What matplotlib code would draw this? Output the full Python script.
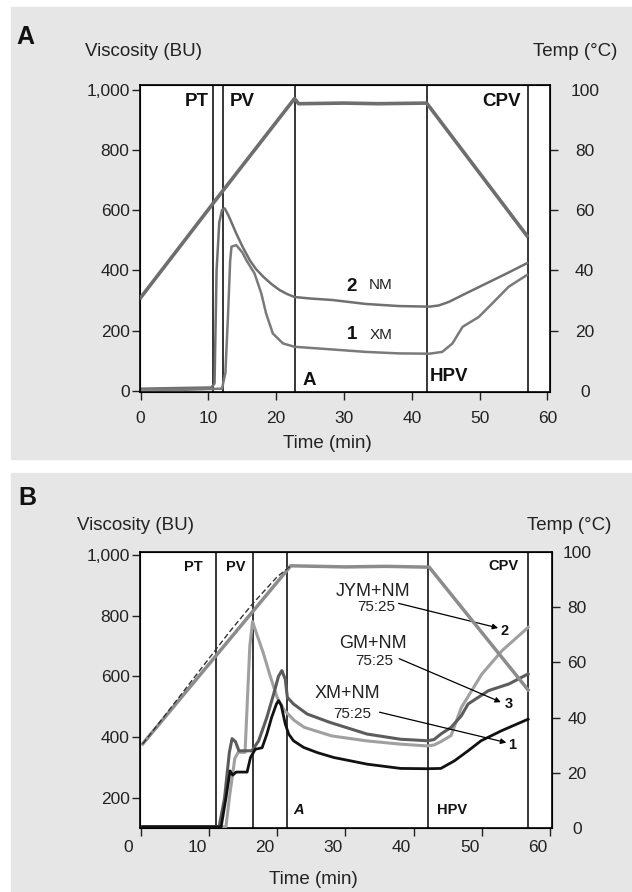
import matplotlib
matplotlib.use("Agg")
import matplotlib.pyplot as plt
import matplotlib.transforms as mtransforms
from matplotlib.patches import Rectangle
from matplotlib.ticker import StrMethodFormatter

plt.rcParams['font.family'] = ['Liberation Sans', 'DejaVu Sans']

# ---- Panel A data ----
a_temp_t = [0, 10.6, 22.7, 23.3, 30, 35, 42.2, 57]
a_temp_c = [31, 62, 97, 95.3, 95.5, 95.3, 95.5, 51.5]

a_nm_t = [0, 5, 10.4, 10.9, 11.2, 11.6, 12.0, 12.4, 13.0, 14.1, 15.0, 16.1, 17.0,
          18.1, 19.3, 20.5, 21.6, 22.7, 25, 28.3, 33.2, 38.1, 42.6, 44, 45.5, 48,
          51, 54, 57]
a_nm_bu = [8, 10, 12, 25, 400, 560, 600, 606, 580, 523, 480, 434, 405, 379, 355,
           335, 322, 312, 307, 302, 289, 282, 280, 284, 296, 324, 357, 390, 424]

a_xm_t = [0, 6, 12.0, 12.5, 12.9, 13.2, 13.4, 14.1, 15.0, 15.6, 16.8, 17.8, 18.5,
          19.5, 21, 22.7, 28.3, 33.2, 38.1, 42.6, 44.5, 46, 47.5, 49.9, 51.9,
          54.3, 57]
a_xm_bu = [5, 4, 8, 60, 258, 430, 479, 484, 460, 434, 390, 324, 258, 191, 158,
           147, 138, 130, 125, 124, 130, 158, 213, 246, 291, 346, 385]

a_phases = [10.6, 12.1, 22.7, 42.2, 57.2]

# ---- Panel B data ----
b_temp_t = [0.3, 22.0, 30, 36, 42.3, 56.8]
b_temp_c = [30.5, 95.0, 94.6, 94.8, 94.5, 50.0]
b_temp2_t = [0.3, 3, 8, 13, 16.5, 20, 22]
b_temp2_c = [30.5, 39, 55, 71, 81.5, 91, 95]

b_jym_t = [0.3, 12.5, 13.0, 13.8, 14.3, 15.3, 15.6, 16.0, 16.4, 17.0, 18.0, 19.0,
           20.0, 21.0, 22.5, 24.0, 28.0, 33.0, 38.0, 42.0, 43.0, 44.0, 45.5, 47.0,
           50.0, 53.0, 56.8]
b_jym_bu = [105, 105, 200, 330, 350, 350, 500, 700, 780, 740, 675, 600, 531, 490,
            455, 432, 404, 388, 377, 371, 374, 385, 405, 497, 607, 685, 761]

b_gm_t = [0.3, 11.5, 12.3, 13.0, 13.4, 13.9, 14.4, 16.3, 17.3, 18.5, 19.5, 20.2,
          20.7, 21.2, 21.5, 22.4, 24.4, 27.8, 33.2, 38.1, 42.1, 43.0, 44.0, 45.5,
          47.0, 48.0, 51.0, 54.0, 56.8]
b_gm_bu = [105, 105, 200, 350, 395, 385, 355, 355, 388, 465, 542, 600, 619, 590,
           531, 509, 476, 448, 410, 393, 388, 392, 410, 432, 470, 509, 553, 575, 608]

b_xm_t = [0.3, 11.8, 12.5, 13.1, 13.5, 14.0, 15.6, 16.1, 16.8, 17.8, 18.5, 19.2,
          19.9, 20.2, 20.6, 21.2, 21.7, 22.4, 23.9, 25.9, 28.3, 33.2, 38.1, 42.1,
          44.0, 46.0, 48.0, 49.9, 52.9, 56.8]
b_xm_bu = [105, 105, 200, 289, 275, 285, 285, 333, 360, 365, 410, 465, 509, 520,
           505, 443, 410, 388, 366, 349, 333, 311, 297, 296, 297, 322, 355, 388,
           421, 459]

b_phases = [11.1, 16.5, 21.5, 42.1, 56.8]

x_ticks = [0, 10, 20, 30, 40, 50, 60]
temp_ticks = [0, 20, 40, 60, 80, 100]

W, H = 632, 892
fig = plt.figure(figsize=(W / 100, H / 100), dpi=100)
fig.patch.set_facecolor('white')

# grey panel backgrounds
fig.add_artist(Rectangle((11 / W, 1 - 459 / H), 1 - 11 / W, 452 / H,
                         transform=fig.transFigure, color='#e6e6e6', zorder=0))
fig.add_artist(Rectangle((11 / W, 0), 1 - 11 / W, 419 / H,
                         transform=fig.transFigure, color='#e6e6e6', zorder=0))


def style_axes(ax, ax2, xpad, rpad):
    for s in ax.spines.values():
        s.set_linewidth(1.2)
    ax.set_xticks(x_ticks)
    ax.yaxis.set_major_formatter(StrMethodFormatter('{x:,.0f}'))
    ax.tick_params(axis='x', length=6, width=1, labelsize=12.5, pad=xpad,
                   colors='#222222')
    ax.tick_params(axis='y', length=6, width=1, labelsize=12.5, pad=1.5,
                   colors='#222222')
    ax2.set_yticks(temp_ticks)
    ax2.tick_params(axis='y', length=6, width=1, labelsize=12.5, pad=rpad,
                    colors='#222222')
    ticks = ax2.yaxis.get_major_ticks()
    for t in ticks:
        t.label2.set_horizontalalignment('center')
    ticks[0].tick2line.set_visible(False)
    ticks[-1].tick2line.set_visible(False)


# ================= Panel A =================
ax = fig.add_axes([140 / W, 1 - 392 / H, 410 / W, 307 / H])
ax2 = ax.twinx()
ax.set_xlim(-0.1, 60.4)
ax.set_ylim(-3, 1015)
ax2.set_ylim(-0.3, 101.5)
ax.set_yticks([0, 200, 400, 600, 800, 1000])

for t in a_phases:
    ax.axvline(t, color='black', lw=1.1, zorder=1)
ax.plot(a_nm_t, a_nm_bu, color='#707070', lw=1.8, zorder=3)
ax.plot(a_xm_t, a_xm_bu, color='#7a7a7a', lw=1.8, zorder=3)
ax2.plot(a_temp_t, a_temp_c, color='#6e6e6e', lw=2.6, zorder=3)

lab = dict(fontsize=13.5, fontweight='bold', color='#111111', va='center')
ax.text(10.1, 960, 'PT', ha='right', **lab)
ax.text(13.1, 960, 'PV', ha='left', **lab)
ax.text(56.1, 960, 'CPV', ha='right', **lab)
ax.text(23.9, 36, 'A', ha='left', **lab)
ax.text(42.7, 47, 'HPV', ha='left', **lab)
ax.text(30.3, 346, '2', ha='left', **lab)
ax.text(33.6, 352, 'NM', ha='left', va='center', fontsize=11, color='#222222')
ax.text(30.4, 189, '1', ha='left', **lab)
ax.text(33.8, 186, 'XM', ha='left', va='center', fontsize=11, color='#222222')

style_axes(ax, ax2, xpad=8, rpad=19)

fig.text(16 / W, 1 - 37.5 / H, 'A', fontsize=18, fontweight='bold',
         ha='left', va='center', color='#111111')
fig.text(85 / W, 1 - 52 / H, 'Viscosity (BU)', fontsize=13.5,
         ha='left', va='center', color='#222222')
fig.text(617 / W, 1 - 52 / H, 'Temp (°C)', fontsize=13.5,
         ha='right', va='center', color='#222222')
fig.text(327 / W, 1 - 443 / H, 'Time (min)', fontsize=13.5,
         ha='center', va='center', color='#222222')

# ================= Panel B =================
bx = fig.add_axes([140 / W, 1 - 828 / H, 412 / W, 276 / H])
bx2 = bx.twinx()
bx.set_xlim(-0.1, 60.3)
bx.set_ylim(101, 1009)
bx2.set_ylim(0, 100)
bx.set_yticks([200, 400, 600, 800, 1000])

for t in b_phases:
    bx.axvline(t, color='black', lw=1.1, zorder=1)
bx2.plot(b_temp_t, b_temp_c, color='#8c8c8c', lw=2.5, zorder=2)
bx2.plot(b_temp2_t, b_temp2_c, color='#333333', lw=1.0, ls=(0, (4, 2)), zorder=2)
bx.plot(b_jym_t, b_jym_bu, color='#a0a0a0', lw=2.2, zorder=3)
bx.plot(b_gm_t, b_gm_bu, color='#5c5c5c', lw=2.2, zorder=3)
bx.plot(b_xm_t, b_xm_bu, color='#111111', lw=2.0, zorder=3)

labb = dict(fontsize=10.5, fontweight='bold', color='#111111', va='center')
bx.text(9.1, 959, 'PT', ha='right', **labb)
bx.text(12.5, 959, 'PV', ha='left', **labb)
bx.text(55.4, 962, 'CPV', ha='right', **labb)
bx.text(22.4, 160, 'A', ha='left', style='italic', **labb)
bx.text(43.4, 160, 'HPV', ha='left', **labb)

mix_names = ['JYM+NM', 'GM+NM', 'XM+NM']
mix_ratio = '75:25'
name_xy = [(34.0, 878), (34.1, 707), (30.3, 542)]
ratio_xy = [(34.6, 828), (34.3, 652), (31.0, 476)]
arrow_from = [(37.8, 840), (37.9, 658), (35.0, 482)]
arrow_to = [(52.4, 759), (52.8, 515), (53.6, 382)]
curve_ids = ['2', '3', '1']
id_xy = [(53.4, 748), (53.9, 509), (54.4, 375)]

for i in range(3):
    bx.text(name_xy[i][0], name_xy[i][1], mix_names[i], fontsize=13,
            ha='center', va='center', color='#222222', zorder=5)
    bx.text(ratio_xy[i][0], ratio_xy[i][1], mix_ratio, fontsize=11,
            ha='center', va='center', color='#222222', zorder=5)
    bx.annotate('', xy=arrow_to[i], xytext=arrow_from[i],
                arrowprops=dict(arrowstyle='-|>', color='black', lw=0.9,
                                mutation_scale=8, shrinkA=0, shrinkB=0),
                zorder=5)
    bx.text(id_xy[i][0], id_xy[i][1], curve_ids[i], ha='center',
            zorder=5, **labb)

style_axes(bx, bx2, xpad=3, rpad=12)

# x tick labels in panel B sit a bit left of their ticks
offset = mtransforms.ScaledTranslation(-0.12, 0, fig.dpi_scale_trans)
for lbl in bx.get_xticklabels():
    lbl.set_transform(lbl.get_transform() + offset)

fig.text(18 / W, 1 - 498 / H, 'B', fontsize=18, fontweight='bold',
         ha='left', va='center', color='#111111')
fig.text(77 / W, 1 - 525 / H, 'Viscosity (BU)', fontsize=13.5,
         ha='left', va='center', color='#222222')
fig.text(611 / W, 1 - 525 / H, 'Temp (°C)', fontsize=13.5,
         ha='right', va='center', color='#222222')
fig.text(313 / W, 1 - 880 / H, 'Time (min)', fontsize=13.5,
         ha='center', va='center', color='#222222')

fig.savefig('out.png', dpi=100)
